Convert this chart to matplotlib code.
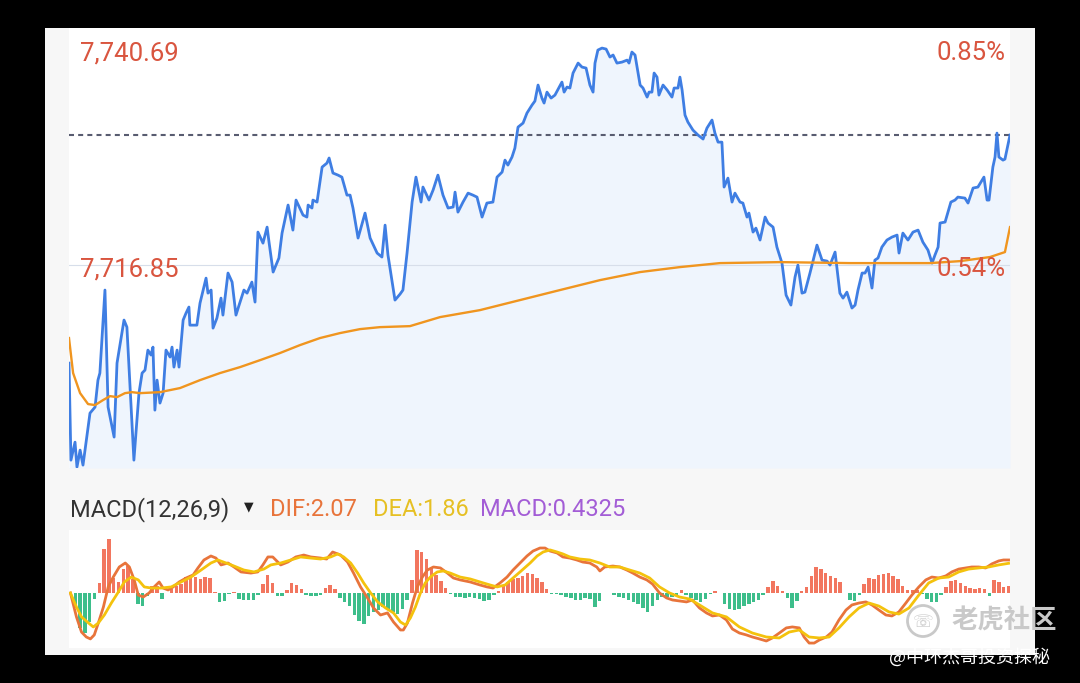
import numpy as np
import matplotlib
matplotlib.use("Agg")
import matplotlib.pyplot as plt
from matplotlib.patches import Rectangle, Ellipse

# ---------------- data ----------------
# intraday price (minutes since open, price)
t_min = [0.0, 0.8, 2.5, 3.3, 4.6, 5.8, 8.7, 10.8, 12.0, 12.8,
         14.9, 16.2, 18.7, 19.9, 22.8, 24.0, 26.9, 29.0, 30.3, 31.5,
         32.7, 34.0, 34.8, 35.6, 36.5, 37.7, 39.0, 40.2, 41.9, 42.7,
         43.5, 44.8, 45.6, 47.3, 48.5, 49.7, 50.1, 53.0, 54.3, 56.8,
         57.6, 58.9, 59.7, 61.3, 63.0, 63.8, 65.9, 67.6, 69.2, 70.5,
         72.5, 73.8, 75.8, 77.1, 78.3, 80.4, 82.1, 82.9, 84.6, 87.0,
         88.3, 90.8, 92.8, 94.1, 97.0, 98.6, 99.1, 100.7, 101.1, 102.8,
         104.9, 106.9, 107.8, 109.4, 111.5, 113.1, 115.2, 116.5, 117.7, 119.8,
         122.7, 123.9, 124.8, 127.7, 129.7, 131.0, 132.2, 135.1, 137.2, 138.4,
         140.1, 142.2, 143.8, 145.9, 146.7, 149.2, 150.9, 152.9, 155.0, 157.1,
         159.2, 160.0, 161.2, 163.3, 165.4, 167.4, 169.1, 171.2, 173.2, 175.7,
         177.4, 179.5, 180.7, 181.9, 183.6, 184.8, 186.1, 188.2, 189.8, 191.9,
         193.1, 194.4, 196.0, 196.9, 198.1, 199.8, 201.4, 204.3, 205.2, 206.4,
         207.6, 208.9, 211.0, 212.6, 214.3, 215.9, 217.2, 218.0, 219.2, 220.9,
         222.6, 224.2, 225.5, 227.1, 229.2, 231.3, 232.1, 233.3, 234.6, 236.7,
         237.9, 239.6, 240.4, 241.6, 242.5, 243.7, 244.5, 246.2, 247.9, 249.9,
         250.8, 252.4, 253.2, 254.1, 255.3, 256.5, 258.6, 260.7, 262.8, 264.4,
         266.5, 267.7, 269.0, 270.6, 271.5, 273.1, 274.8, 276.0, 278.1, 279.3,
         281.0, 281.8, 283.5, 284.7, 286.4, 288.5, 289.7, 291.8, 293.4, 295.5,
         297.2, 299.2, 300.9, 302.1, 303.8, 305.0, 307.1, 310.0, 312.1, 314.2,
         315.4, 317.5, 319.5, 320.8, 322.4, 324.5, 325.8, 327.0, 328.7, 329.9,
         331.2, 332.8, 334.0, 335.3, 336.9, 339.0, 341.1, 343.2, 344.0, 345.6,
         347.7, 349.8, 351.9, 353.9, 356.0, 357.7, 358.9, 360.2, 361.0, 363.1,
         365.5, 367.2, 368.4, 371.3, 372.6, 374.7, 376.7, 379.2, 380.5, 381.3,
         382.9, 383.8, 384.6, 385.4, 387.1, 387.9, 390.0]
price = [7706.98, 7697.22, 7699.03, 7696.52, 7698.23, 7696.72, 7701.95, 7702.56, 7705.27, 7705.98,
         7714.33, 7702.56, 7699.54, 7706.98, 7711.31, 7710.60, 7697.22, 7703.96, 7705.98, 7706.28,
         7708.29, 7707.79, 7708.59, 7702.25, 7705.27, 7702.96, 7703.96, 7708.29, 7707.59, 7708.59,
         7706.58, 7708.29, 7706.58, 7711.31, 7712.01, 7712.62, 7710.80, 7710.80, 7713.02, 7715.53,
         7714.02, 7714.33, 7710.50, 7711.51, 7713.52, 7711.81, 7716.04, 7715.13, 7711.81, 7712.82,
         7714.33, 7714.02, 7715.13, 7713.12, 7720.16, 7719.05, 7720.66, 7719.15, 7716.14, 7717.55,
         7720.06, 7722.88, 7720.36, 7723.38, 7721.87, 7721.67, 7722.88, 7722.58, 7723.38, 7723.18,
         7726.70, 7727.10, 7727.61, 7726.10, 7725.89, 7725.69, 7723.88, 7723.88, 7722.58, 7719.56,
         7722.07, 7720.66, 7719.56, 7718.05, 7717.65, 7720.86, 7717.85, 7713.32, 7713.92, 7714.33,
         7718.05, 7723.18, 7725.69, 7723.18, 7724.69, 7723.38, 7724.39, 7725.89, 7723.88, 7722.58,
         7722.68, 7724.18, 7722.17, 7723.18, 7724.08, 7723.88, 7723.68, 7721.67, 7723.08, 7723.18,
         7725.69, 7726.20, 7727.40, 7726.90, 7727.71, 7728.61, 7730.72, 7731.13, 7732.13, 7732.94,
         7733.34, 7734.95, 7733.64, 7733.14, 7734.24, 7733.64, 7733.94, 7735.25, 7734.24, 7734.75,
         7734.65, 7736.16, 7737.16, 7736.76, 7736.66, 7734.95, 7734.24, 7737.16, 7738.47, 7738.67,
         7738.57, 7737.77, 7737.97, 7737.16, 7737.26, 7737.46, 7737.16, 7738.27, 7737.97, 7734.95,
         7734.65, 7733.74, 7734.24, 7734.24, 7736.16, 7735.75, 7733.94, 7734.95, 7734.45, 7733.74,
         7734.65, 7734.65, 7735.75, 7734.45, 7731.93, 7731.23, 7730.42, 7729.92, 7729.52, 7730.62,
         7731.43, 7730.12, 7729.21, 7729.21, 7724.69, 7725.59, 7723.18, 7724.08, 7723.18, 7723.08,
         7721.67, 7722.07, 7720.16, 7720.56, 7719.36, 7721.67, 7721.07, 7720.66, 7718.65, 7717.04,
         7713.82, 7712.82, 7715.63, 7716.84, 7714.02, 7714.12, 7716.04, 7718.85, 7717.34, 7717.24,
         7716.84, 7718.15, 7714.02, 7713.52, 7714.12, 7712.52, 7712.82, 7714.33, 7716.04, 7716.04,
         7716.64, 7714.53, 7717.34, 7717.55, 7718.65, 7719.36, 7719.66, 7719.86, 7718.05, 7720.06,
         7719.36, 7720.16, 7720.36, 7719.15, 7718.35, 7717.04, 7717.85, 7718.65, 7721.07, 7721.17,
         7723.18, 7723.38, 7723.68, 7723.58, 7723.08, 7724.59, 7724.69, 7725.69, 7723.38, 7723.38,
         7726.70, 7727.71, 7730.12, 7727.71, 7727.40, 7727.50, 7729.92]

# average price line
avg_t = [0, 1.7, 4.6, 7.9, 10.8, 14.1, 17.0, 19.9, 23.2, 26.1,
         29.4, 37.7, 46.0, 54.3, 62.6, 70.9, 79.2, 87.4, 95.7, 104.0,
         112.3, 120.6, 128.9, 141.3, 153.8, 170.3, 186.9, 203.5, 220.1, 236.7,
         253.2, 269.8, 294.7, 323.7, 344.4, 356.8, 369.3, 381.7, 387.9, 390.0]
avg_price = [7709.50, 7705.98, 7703.96, 7702.86, 7702.76, 7703.26, 7703.66, 7703.56, 7703.96, 7704.06,
             7703.96, 7704.06, 7704.47, 7705.27, 7705.98, 7706.58, 7707.28, 7707.99, 7708.79, 7709.50,
             7710.00, 7710.40, 7710.60, 7710.70, 7711.61, 7712.31, 7713.32, 7714.33, 7715.33, 7716.14,
             7716.64, 7717.04, 7717.14, 7717.04, 7717.04, 7717.04, 7717.24, 7717.65, 7718.15, 7720.66]

price_top = 7740.69
price_grid = 7716.85
price_bottom = 7696.43
price_labels = ["7,740.69", "7,716.85"]
pct_labels = ["0.85%", "0.54%"]

# MACD histogram (one bar every 2 minutes)
hist = [0.00, -0.94, -2.19, -2.51, -1.82, -0.38, 0.63, 2.76, 3.39, 0.94,
        0.69, 1.50, 1.69, 0.88, -0.69, -0.82, -0.19, 0.44, 0.44, -0.38,
        0.03, 0.25, 0.44, 0.56, 1.00, 1.13, 1.00, 0.88, 1.00, 0.94,
        0.06, -0.56, -0.50, -0.06, 0.06, -0.38, -0.44, -0.44, -0.44, -0.13,
        0.56, 1.13, 0.63, -0.19, -0.19, 0.19, 0.63, 0.50, 0.25, -0.13,
        -0.19, -0.19, -0.13, 0.31, 0.50, 0.25, -0.31, -0.56, -0.82, -1.38,
        -1.76, -1.94, -1.44, -1.19, -1.07, -0.88, -1.00, -1.19, -1.32, -1.00,
        -0.44, 0.82, 2.70, 2.57, 2.13, 1.57, 1.13, 0.75, 0.31, -0.06,
        -0.25, -0.25, -0.31, -0.25, -0.31, -0.38, -0.50, -0.44, -0.13, 0.13,
        0.44, 0.69, 0.88, 0.94, 1.07, 1.25, 1.19, 0.94, 0.69, 0.25,
        -0.06, -0.06, -0.13, -0.25, -0.31, -0.44, -0.44, -0.31, -0.38, -0.88,
        -0.50, -0.03, 0.03, -0.13, -0.25, -0.31, -0.44, -0.56, -0.69, -0.94,
        -1.19, -0.82, -0.44, -0.25, -0.25, -0.25, -0.19, 0.19, -0.13, -0.31,
        -0.44, -0.56, -0.38, -0.06, 0.13, 0.02, -0.69, -1.00, -1.07, -1.00,
        -0.82, -0.69, -0.56, -0.44, -0.13, 0.38, 0.75, 0.44, 0.13, -0.31,
        -0.94, -0.50, 0.13, 0.38, 1.07, 1.63, 1.50, 1.25, 1.07, 0.94,
        0.69, 0.00, -0.44, -0.50, -0.13, 0.56, 0.94, 0.88, 1.13, 1.19,
        1.25, 1.07, 0.88, 0.44, 0.19, 0.19, 0.19, -0.06, -0.38, -0.56,
        -0.56, -0.13, 0.38, 0.75, 0.82, 0.63, 0.44, 0.31, 0.25, 0.31,
        0.25, -0.19, 0.82, 0.69, 0.38, 0.43]
hist_t = np.arange(len(hist)) * 2

dif_t = [0, 2.5, 4.6, 6.6, 8.3, 9.9, 11.6, 13.7, 15.7, 17.8,
         20.3, 22.8, 24.5, 26.5, 28.2, 30.3, 32.7, 34.8, 36.9, 38.5,
         40.6, 42.7, 45.2, 48.1, 51.0, 53.0, 55.5, 58.4, 60.5, 62.6,
         65.5, 68.0, 70.9, 75.0, 77.9, 80.0, 82.1, 84.1, 87.4, 90.4,
         93.7, 97.0, 99.9, 104.0, 106.5, 109.0, 112.3, 115.2, 117.7, 120.6,
         123.5, 126.0, 128.9, 131.8, 134.3, 137.2, 138.4, 140.1, 142.2, 144.2,
         146.3, 148.4, 150.9, 153.8, 156.7, 159.2, 162.0, 166.2, 170.3, 173.2,
         175.7, 178.6, 181.5, 184.0, 186.9, 189.8, 192.3, 195.2, 197.3, 199.4,
         202.3, 204.7, 207.6, 210.5, 213.0, 215.9, 218.8, 220.1, 222.1, 225.5,
         228.4, 231.3, 233.8, 236.7, 239.6, 242.0, 244.9, 247.8, 250.3, 253.2,
         256.1, 258.6, 261.5, 264.4, 266.9, 269.8, 272.7, 275.2, 278.1, 281.0,
         283.5, 286.4, 289.3, 291.8, 294.7, 297.6, 300.1, 303.0, 305.0, 307.1,
         309.2, 311.3, 314.2, 316.6, 319.5, 322.4, 324.9, 327.8, 330.7, 333.2,
         336.1, 339.0, 341.5, 344.4, 347.3, 349.8, 352.7, 355.6, 358.1, 361.0,
         363.9, 366.4, 369.3, 372.2, 374.7, 377.6, 380.5, 383.0, 385.9, 387.9,
         390.0]
dif = [0.00, -1.50, -2.45, -2.76, -2.88, -2.63, -1.88, -0.88, 0.38, 1.00,
       1.63, 1.88, 1.63, 0.82, -0.13, -0.25, 0.00, 0.38, 0.69, 0.31,
       0.19, 0.38, 0.69, 0.94, 1.13, 1.57, 2.07, 2.32, 2.19, 1.76,
       1.88, 1.63, 1.32, 1.25, 1.32, 1.76, 2.26, 2.26, 1.76, 1.94,
       2.26, 2.38, 2.26, 2.19, 2.13, 2.57, 2.38, 1.94, 1.25, 0.38,
       -0.31, -0.94, -1.38, -1.25, -1.82, -2.32, -2.32, -1.88, -0.63, 0.38,
       1.00, 1.44, 1.63, 1.57, 1.25, 0.94, 0.82, 0.69, 0.50, 0.38,
       0.31, 0.63, 1.00, 1.44, 1.88, 2.32, 2.63, 2.82, 2.82, 2.63,
       2.51, 2.26, 2.19, 2.07, 1.94, 1.88, 1.63, 1.38, 1.63, 1.69,
       1.63, 1.44, 1.25, 1.00, 0.82, 0.56, 0.00, -0.31, -0.44, -0.50,
       -0.56, -0.44, -0.94, -1.25, -1.44, -1.38, -1.69, -2.26, -2.51, -2.63,
       -2.76, -2.88, -3.01, -2.82, -2.51, -2.19, -2.13, -2.19, -2.76, -3.14,
       -3.14, -2.95, -2.76, -2.45, -1.69, -1.07, -0.75, -0.63, -0.56, -0.75,
       -1.07, -1.38, -1.44, -1.19, -0.63, -0.13, 0.38, 0.82, 1.00, 0.94,
       1.07, 1.32, 1.50, 1.57, 1.63, 1.63, 1.57, 1.82, 2.01, 2.07,
       2.07]

dea_t = [0, 2.5, 4.6, 7.5, 9.5, 11.6, 14.1, 17.0, 19.9, 22.4,
         25.3, 28.2, 30.7, 33.6, 37.7, 41.9, 46.0, 50.1, 54.3, 58.4,
         61.3, 64.7, 68.0, 72.1, 76.3, 80.4, 83.3, 87.4, 91.6, 95.7,
         99.9, 104.0, 108.2, 111.1, 113.6, 116.5, 119.4, 121.9, 124.8, 127.7,
         131.0, 134.3, 137.2, 139.3, 141.3, 143.4, 145.5, 147.5, 149.6, 152.5,
         155.0, 157.9, 162.0, 166.2, 170.3, 174.5, 177.4, 180.7, 184.0, 186.9,
         191.1, 194.0, 196.5, 199.4, 202.3, 204.7, 207.6, 211.8, 215.9, 220.1,
         224.2, 228.4, 232.5, 236.7, 240.8, 244.9, 249.1, 253.2, 257.4, 261.5,
         266.9, 272.7, 278.1, 283.5, 289.3, 294.7, 298.8, 303.0, 307.1, 311.3,
         315.4, 319.5, 323.7, 327.8, 332.0, 336.1, 340.3, 344.4, 348.6, 352.7,
         356.8, 361.0, 365.1, 369.3, 373.4, 377.6, 381.7, 385.9, 390.0]
dea = [0.00, -0.88, -1.50, -1.88, -2.13, -1.88, -1.38, -0.63, 0.06, 0.69,
       1.00, 0.82, 0.38, 0.31, 0.31, 0.38, 0.69, 1.00, 1.44, 1.88,
       2.07, 1.88, 1.69, 1.44, 1.32, 1.50, 1.76, 1.88, 2.07, 2.26,
       2.19, 2.13, 2.26, 2.45, 2.26, 1.88, 1.25, 0.63, 0.00, -0.56,
       -0.94, -1.25, -1.82, -2.01, -1.57, -0.88, 0.00, 0.63, 1.00, 1.32,
       1.38, 1.25, 1.00, 0.88, 0.69, 0.50, 0.38, 0.50, 0.94, 1.32,
       1.88, 2.32, 2.57, 2.70, 2.57, 2.45, 2.26, 2.13, 2.07, 1.88,
       1.63, 1.63, 1.44, 1.25, 0.94, 0.38, 0.00, -0.25, -0.38, -0.75,
       -1.25, -1.50, -2.13, -2.51, -2.76, -2.82, -2.45, -2.32, -2.76, -2.82,
       -2.76, -2.19, -1.50, -0.94, -0.63, -0.82, -1.19, -1.32, -0.94, -0.13,
       0.63, 0.94, 1.00, 1.32, 1.50, 1.57, 1.63, 1.76, 1.86]

macd_title = "MACD(12,26,9)"
dif_last, dea_last, macd_last = "2.07", "1.86", "0.4325"

# ---------------- figure ----------------
W, H = 1080, 683
fig = plt.figure(figsize=(W / 100, H / 100), dpi=100, facecolor="black")


def fx(x):
    return x / W


def fy(y):
    return 1 - y / H


fig.patches.append(Rectangle((fx(45), fy(655)), fx(1035) - fx(45), fy(28) - fy(655),
                             transform=fig.transFigure, facecolor="#f7f7f7",
                             edgecolor="none", zorder=-5))


def clean(ax):
    for s in ax.spines.values():
        s.set_visible(False)
    ax.set_xticks([])
    ax.set_yticks([])


ax1 = fig.add_axes([fx(69), fy(468), fx(1010) - fx(69), fy(28) - fy(468)])
ax1.set_facecolor("white")
clean(ax1)
ax1.set_xlim(0, 390)
ax1.set_ylim(price_bottom, price_top)
ax1.fill_between(t_min, price, price_bottom, color="#eff5fd", lw=0, zorder=1)
ax1.axhline(price_grid, color="#d7deea", lw=0.8, zorder=2)
ax1.axhline(price[-1], color="#585c70", lw=1.5, dashes=(2.4, 2.0), zorder=2)
ax1.plot(t_min, price, color="#3f7ee3", lw=2.0, solid_joinstyle="round", zorder=3)
ax1.plot(avg_t, avg_price, color="#f0951f", lw=1.7, zorder=4)

red_txt = "#d9553f"
fig.text(fx(80), fy(60), price_labels[0], color=red_txt, fontsize=18.5,
         family="Roboto", ha="left", va="baseline", zorder=10)
fig.text(fx(80), fy(276), price_labels[1], color=red_txt, fontsize=18.5,
         family="Roboto", ha="left", va="baseline", zorder=10)
fig.text(fx(1006), fy(60), pct_labels[0], color=red_txt, fontsize=18.5,
         family="Roboto", ha="right", va="baseline", zorder=10)
fig.text(fx(1006), fy(276), pct_labels[1], color=red_txt, fontsize=18.5,
         family="Roboto", ha="right", va="baseline", zorder=10)

ax2 = fig.add_axes([fx(69), fy(648), fx(1010) - fx(69), fy(530) - fy(648)])
ax2.set_facecolor("white")
clean(ax2)
ax2.set_xlim(-0.6, 390.6)
ax2.set_ylim(-3.45, 3.95)
bar_colors = ["#f2765f" if v >= 0 else "#3dbe8b" for v in hist]
ax2.bar(hist_t, hist, width=1.45, color=bar_colors, lw=0, zorder=1)
ax2.plot(dea_t, dea, color="#f4c20d", lw=2.0, zorder=3)
ax2.plot(dif_t, dif, color="#e8743b", lw=2.0, zorder=2)

fig.text(fx(70), fy(516), macd_title, color="#333333", fontsize=17,
         family="Roboto", ha="left", va="baseline")
fig.text(fx(249), fy(507), "▼", color="#222222", fontsize=9,
         family="DejaVu Sans", ha="center", va="center")
fig.text(fx(270), fy(516), "DIF:" + dif_last, color="#e8743b", fontsize=17,
         family="Roboto", ha="left", va="baseline")
fig.text(fx(373), fy(516), "DEA:" + dea_last, color="#e6c024", fontsize=17,
         family="Roboto", ha="left", va="baseline")
fig.text(fx(480), fy(516), "MACD:" + macd_last, color="#a35dd6", fontsize=17,
         family="Roboto", ha="left", va="baseline")

# watermark
fig.patches.append(Ellipse((fx(923), fy(621)), 31 / W, 31 / H, transform=fig.transFigure,
                           facecolor="none", edgecolor="#c9c9c9", lw=2.0, zorder=20))
fig.text(fx(923), fy(622), "☏", color="#c9c9c9", fontsize=12,
         family="DejaVu Sans", ha="center", va="center", zorder=20)
fig.text(fx(951), fy(621), "老虎社区", color="#c9c9c9", fontsize=19,
         family=["Noto Sans CJK SC", "DejaVu Sans"], weight="bold",
         ha="left", va="center", zorder=20)
fig.text(fx(889), fy(657), "@中环杰哥投资探秘", color="white", fontsize=13,
         family=["Noto Sans CJK SC", "DejaVu Sans"], ha="left", va="center", zorder=20)

fig.savefig("out.png", dpi=100, facecolor="black")
